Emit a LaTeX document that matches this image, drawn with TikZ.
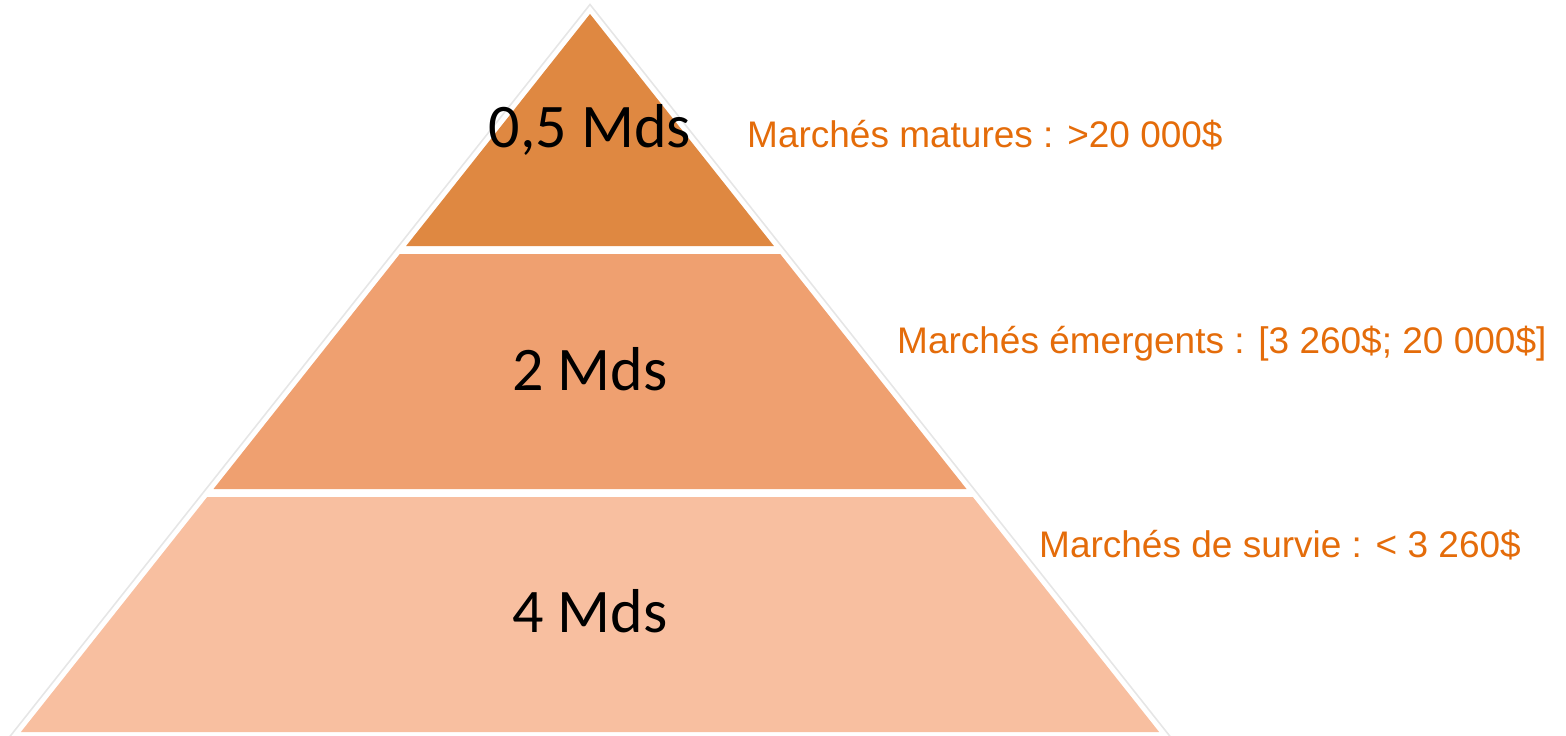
\documentclass[tikz,border=0pt]{standalone}
\usepackage{fontspec}
\setmainfont{Liberation Sans}
\newfontfamily\calib{Carlito}
\definecolor{topfill}{HTML}{DF8841}
\definecolor{midfill}{HTML}{EFA070}
\definecolor{botfill}{HTML}{F8BFA0}
\definecolor{labcol}{HTML}{E46C0A}
\definecolor{shadowcol}{HTML}{E6E6E6}
\tikzset{
  count/.style={font=\calib\fontsize{62}{62}\selectfont, text=black, anchor=base, inner sep=0pt},
  marketlabel/.style={font=\fontsize{37}{37}\selectfont, text=labcol, anchor=base west, inner sep=0pt},
}
\begin{document}
\begin{tikzpicture}[x=1pt,y=-1pt]
\useasboundingbox (0,0) rectangle (1566,736);
% outer soft outline
\draw[shadowcol, line width=1.6pt, line join=miter] (9.5,737) -- (590,4.5) -- (1170.5,737);
% layers
\fill[topfill] (590,14) -- (406.1,246) -- (773.9,246) -- cycle;
\fill[midfill] (399.8,254) -- (780.2,254) -- (966.5,489) -- (213.5,489) -- cycle;
\fill[botfill] (207.2,497) -- (972.8,497) -- (1159.1,732) -- (20.9,732) -- cycle;
% counts
\node[count] (c1) at (590,147) {0,5 Mds};
\node[count] (c2) at (590,390) {2 Mds};
\node[count] (c3) at (590,632) {4 Mds};
% market labels
\node[marketlabel] (l1) at (747,147.5) {Marchés matures : >20 000\$};
\node[marketlabel] (l2) at (897,353.5) {Marchés émergents : [3 260\$; 20 000\$]};
\node[marketlabel] (l3) at (1039,557.5) {Marchés de survie : < 3 260\$};
\end{tikzpicture}
\end{document}
